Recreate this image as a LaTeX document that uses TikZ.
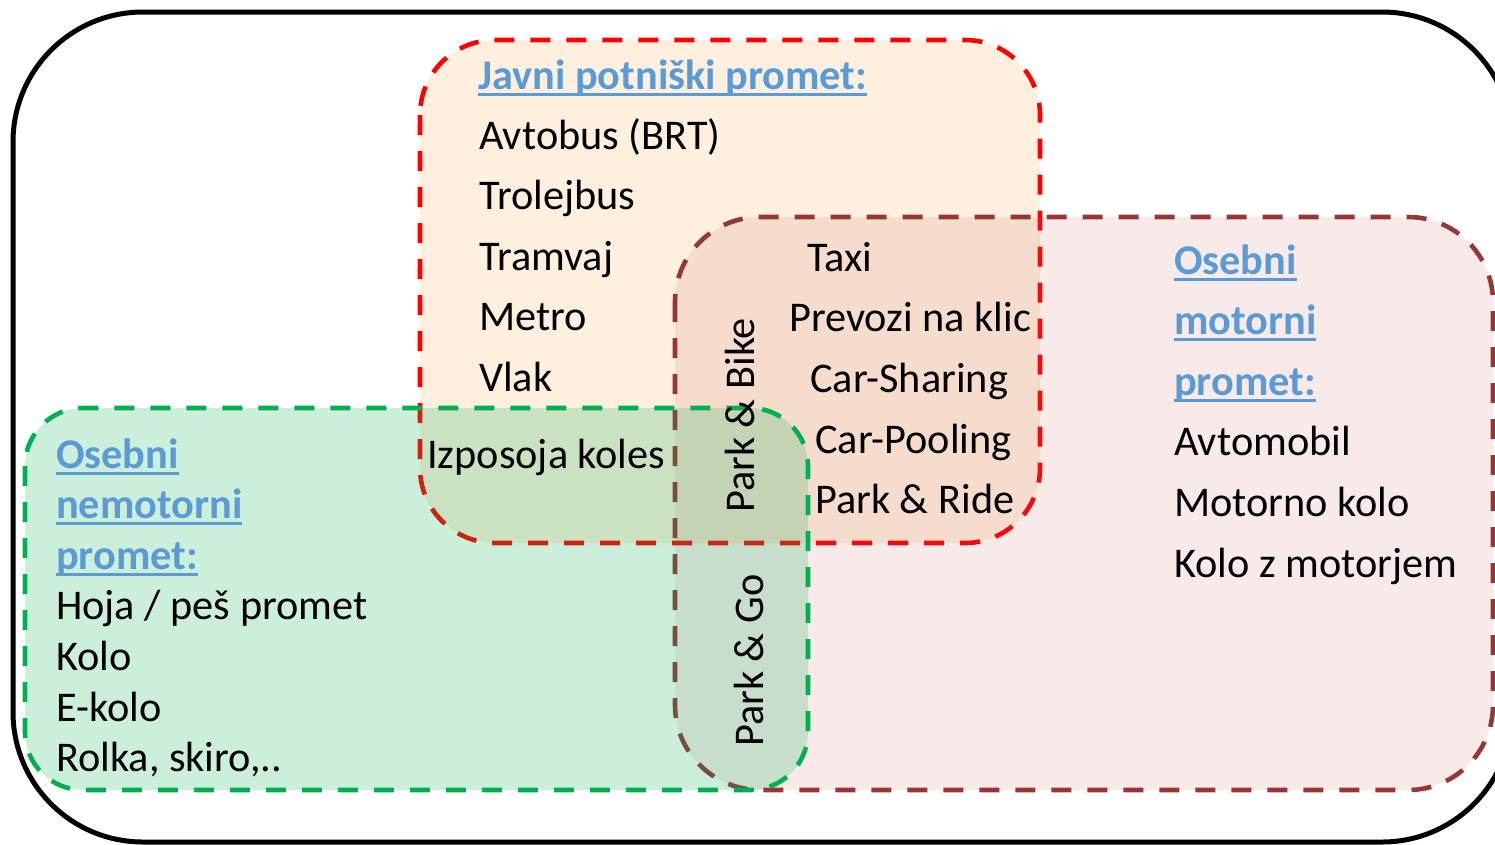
\documentclass[tikz,border=0pt]{standalone}
\usepackage{fontspec}
\setmainfont{Carlito}
\usepackage{xcolor}
\usepackage{tikz}
\usetikzlibrary{positioning}

\definecolor{headblue}{HTML}{5B9BD5}
\definecolor{publicred}{HTML}{FF0000}
\definecolor{motorbrown}{HTML}{953735}
\definecolor{activegreen}{HTML}{00B050}
\definecolor{publicfill}{HTML}{F9B66A}
\definecolor{motorfill}{HTML}{C0504D}

\newcommand{\itemfont}{\fontsize{42.3}{50}\selectfont}
\newcommand{\headul}[1]{\setbox0=\hbox{#1}\rlap{\rule[-6.5pt]{\wd0}{3pt}}\box0}

\begin{document}
\begin{tikzpicture}[x=1pt, y=-1pt]

  \tikzstyle{zone}=[line width=4.6pt, dash pattern=on 20pt off 16pt]
  \tikzstyle{publiczone}=[zone, draw=publicred, fill=publicfill, fill opacity=0.22, rounded corners=75pt]
  \tikzstyle{motorzone}=[zone, draw=motorbrown, fill=motorfill, fill opacity=0.12, rounded corners=85pt]
  \tikzstyle{activezone}=[zone, draw=activegreen, fill=activegreen, fill opacity=0.2, rounded corners=58pt]
  \tikzstyle{item}=[anchor=base west, inner sep=0pt, font=\itemfont]
  \tikzstyle{head}=[item, text=headblue, font=\itemfont\bfseries]

  \useasboundingbox (0,0) rectangle (1495,844);

  % outer frame and the three groups
  \draw [line width=5pt, rounded corners=130pt] (13,12) rectangle (1512,842);
  \draw [publiczone] (420,40) rectangle (1040,543);
  \draw [motorzone] (675,217) rectangle (1493,790);
  \draw [activezone] (25,408) rectangle (808,790);

  % public transport
  \node [head] (javni) at (478,89) {\headul{Javni potniški promet:}};
  \node [item] (avtobus) at (479,149) {Avtobus (BRT)};
  \node [item, below=60.6pt of avtobus.base west, anchor=base west] (trolejbus) {Trolejbus};
  \node [item, below=60.6pt of trolejbus.base west, anchor=base west] (tramvaj) {Tramvaj};
  \node [item, below=60.6pt of tramvaj.base west, anchor=base west] (metro) {Metro};
  \node [item, below=60.6pt of metro.base west, anchor=base west] (vlak) {Vlak};

  % shared services
  \node [item] (taxi) at (807,271) {Taxi};
  \node [item] (klic) at (789,331) {Prevozi na klic};
  \node [item] (sharing) at (810,392) {Car-Sharing};
  \node [item] (pooling) at (815,453) {Car-Pooling};
  \node [item] (ride) at (815,513) {Park \& Ride};

  % personal motorised transport
  \node [head] (mot-1) at (1174,274) {\headul{Osebni}};
  \node [head, below=60.6pt of mot-1.base west, anchor=base west] (mot-2) {\headul{motorni}};
  \node [head, below=60.6pt of mot-2.base west, anchor=base west] (mot-3) {\headul{promet:}};
  \node [item, below=60.6pt of mot-3.base west, anchor=base west] (avtomobil) {Avtomobil};
  \node [item, below=60.6pt of avtomobil.base west, anchor=base west] (motorno) {Motorno kolo};
  \node [item, below=60.6pt of motorno.base west, anchor=base west] (zmotorjem) {Kolo z motorjem};

  % personal non-motorised transport
  \node [head] (nemot-1) at (56,468) {\headul{Osebni}};
  \node [head, below=50.6pt of nemot-1.base west, anchor=base west] (nemot-2) {\headul{nemotorni}};
  \node [head, below=50.6pt of nemot-2.base west, anchor=base west] (nemot-3) {\headul{promet:}};
  \node [item, below=50.6pt of nemot-3.base west, anchor=base west] (hoja) {Hoja / peš promet};
  \node [item, below=50.6pt of hoja.base west, anchor=base west] (kolo) {Kolo};
  \node [item, below=50.6pt of kolo.base west, anchor=base west] (ekolo) {E-kolo};
  \node [item, below=50.6pt of ekolo.base west, anchor=base west] (rolka) {Rolka, skiro,..};

  % overlaps
  \node [item] (izposoja) at (427,468) {Izposoja koles};
  \node [item, rotate=90] (pbike) at (754,513) {Park \& Bike};
  \node [item, rotate=90] (pgo) at (763,747) {Park \& Go};
\end{tikzpicture}
\end{document}
